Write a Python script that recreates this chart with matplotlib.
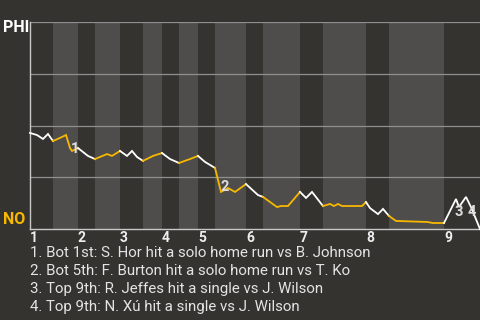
import matplotlib
matplotlib.use("Agg")
import matplotlib.pyplot as plt

# game progress (x) and PHI win probability (y), one point per play
progress = [0, 7, 13, 18, 23, 30, 36, 40, 42, 48, 58, 65, 77, 82, 90, 97, 102,
            107, 113, 123, 132, 140, 149, 160, 168, 175, 185, 191, 198, 205,
            216, 228, 233, 247, 251, 258, 270, 276, 282, 293, 300, 304, 308,
            312, 318, 332, 336, 340, 348, 353, 359, 366, 397, 403, 414, 426,
            429, 436, 441, 450]
win_prob = [0.464, 0.454, 0.435, 0.459, 0.425, 0.440, 0.454, 0.391, 0.377,
            0.391, 0.353, 0.338, 0.362, 0.353, 0.377, 0.353, 0.377, 0.348,
            0.329, 0.353, 0.367, 0.338, 0.319, 0.338, 0.353, 0.324, 0.295,
            0.179, 0.198, 0.179, 0.217, 0.164, 0.155, 0.106, 0.111, 0.111,
            0.179, 0.150, 0.179, 0.111, 0.121, 0.111, 0.121, 0.111, 0.111,
            0.111, 0.130, 0.101, 0.072, 0.097, 0.063, 0.039, 0.034, 0.029,
            0.029, 0.145, 0.106, 0.155, 0.106, 0.0]

# where each half inning starts (top 1st, bottom 1st, top 2nd, ...), plus game end
half_starts = [0, 23, 48, 65, 90, 113, 132, 149, 168, 185, 216, 233, 270, 293,
               336, 359, 414, 450]
innings = ["1", "2", "3", "4", "5", "6", "7", "8", "9"]

# key plays
note_labels = ["1", "2", "3", "4"]
note_x = [45, 195, 429, 442]
note_y = [0.386, 0.203, 0.082, 0.082]
notes = [
    "1. Bot 1st: S. Hor hit a solo home run vs B. Johnson",
    "2. Bot 5th: F. Burton hit a solo home run vs T. Ko",
    "3. Top 9th: R. Jeffes hit a single vs J. Wilson",
    "4. Top 9th: N. Xú hit a single vs J. Wilson",
]

BG = "#353330"
BAND = "#4e4d4b"
YELLOW = "#f8b800"

plt.rcParams['font.family'] = ['Roboto', 'DejaVu Sans']

fig = plt.figure(figsize=(4.8, 3.2), dpi=100, facecolor=BG)
ax = fig.add_axes([30 / 480, 1 - 229 / 320, 450 / 480, 207 / 320])
ax.set_facecolor(BG)

# shaded bands for the bottom halves
for i in range(1, len(half_starts) - 1, 2):
    ax.axvspan(half_starts[i], half_starts[i + 1], color=BAND, lw=0, zorder=0)

for y in [0.25, 0.5, 0.75, 1.0]:
    ax.axhline(y, color="#8f8f8f", lw=0.9, zorder=1)

# line coloured by which team is batting
for i in range(len(half_starts) - 1):
    lo, hi = half_starts[i], half_starts[i + 1]
    xs = [x for x in progress if lo <= x <= hi]
    ys = [w for x, w in zip(progress, win_prob) if lo <= x <= hi]
    color = "white" if i % 2 == 0 else YELLOW
    ax.plot(xs, ys, color=color, lw=1.3, zorder=3, clip_on=False,
            solid_joinstyle="miter")

for lab, x, y in zip(note_labels, note_x, note_y):
    ax.text(x, y, lab, color="#dddddd", fontsize=10.5, fontweight="bold",
            ha="center", va="center", zorder=4)

ax.set_xlim(0, 450)
ax.set_ylim(0, 1)
ax.set_yticks([])
ax.set_xticks(half_starts[0:-1:2])
ax.set_xticklabels(innings, fontsize=10, fontweight="bold", color="#eeeeee",
                   ha="left")
ax.tick_params(axis="x", length=0, pad=1.5)
for side in ["top", "right"]:
    ax.spines[side].set_visible(False)
ax.spines["left"].set_color("#c8c8c8")
ax.spines["bottom"].set_color("#c8c8c8")
ax.spines["left"].set_linewidth(1)
ax.spines["bottom"].set_linewidth(1)

fig.text(3 / 480, 1 - 28 / 320, "PHI", color="white", fontsize=11.5,
         fontweight="bold", va="center", ha="left")
fig.text(3 / 480, 1 - 220 / 320, "NO", color=YELLOW, fontsize=11.5,
         fontweight="bold", va="center", ha="left")

for k, line in enumerate(notes):
    fig.text(30 / 480, 1 - (253 + 18 * k) / 320, line, color="#e4e4e4",
             fontsize=10.8, va="center", ha="left")

fig.savefig("out.png", dpi=100, facecolor=BG)
